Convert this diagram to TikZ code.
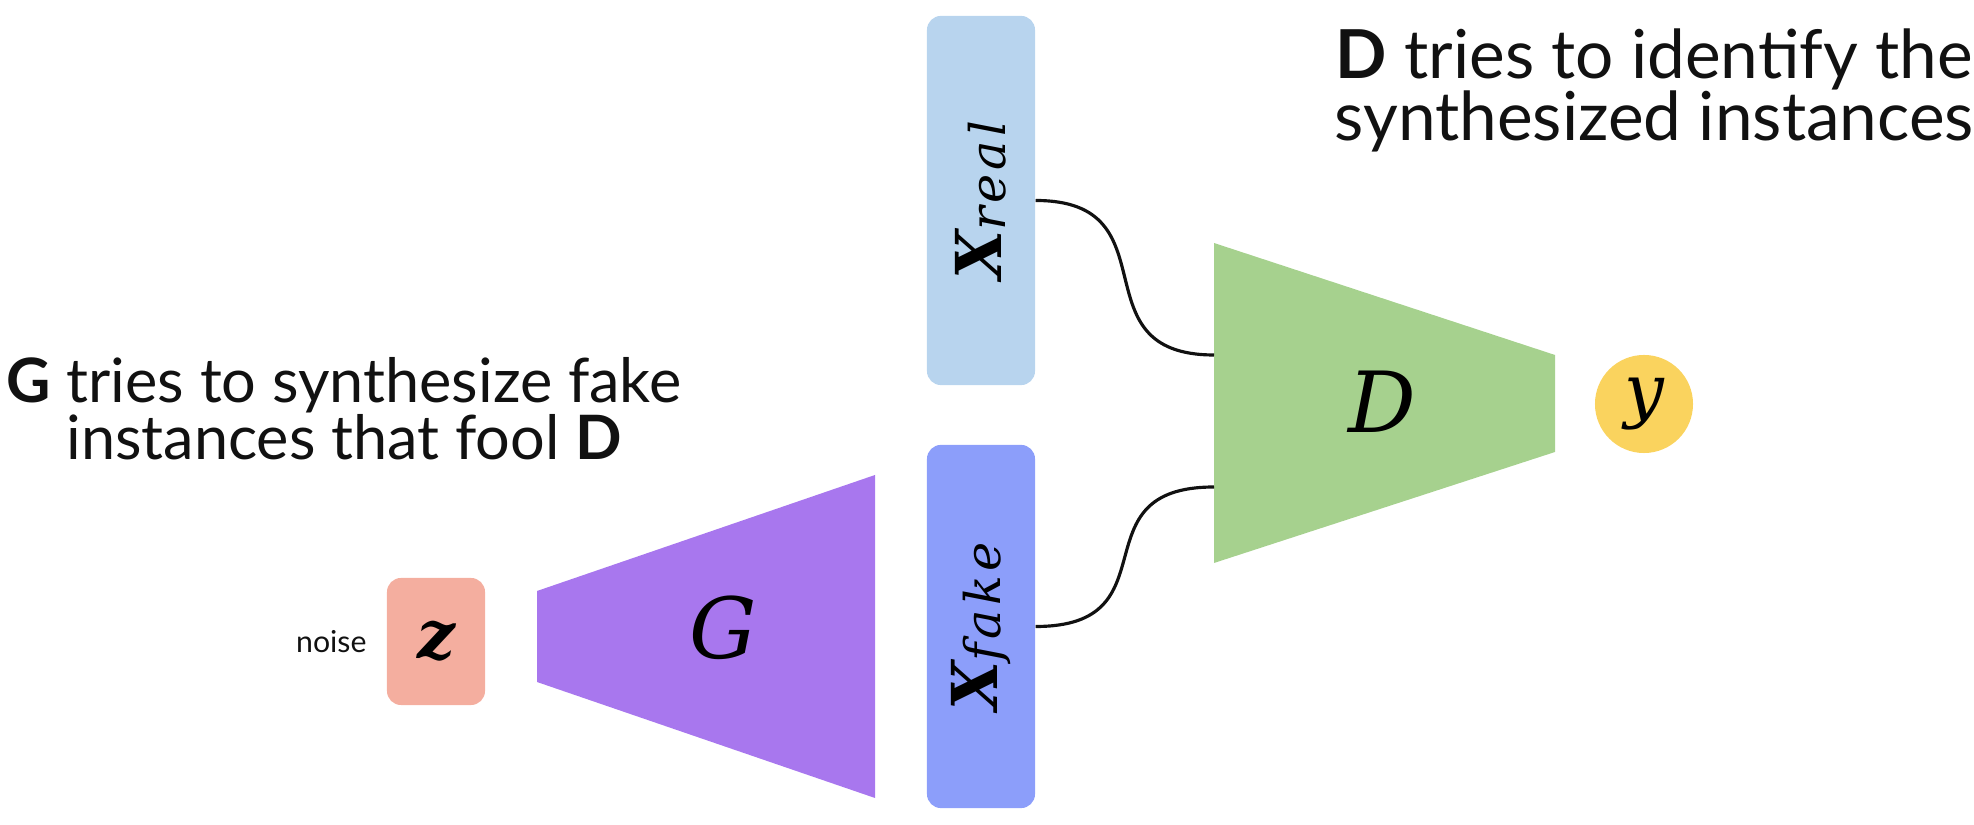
\documentclass[tikz,border=0pt]{standalone}
\usepackage{amsmath,amssymb}
\usepackage{fontspec}
\setmainfont{Lato}
\newfontfamily\mathserif{DejaVu Serif}
\newfontfamily\subserif[LetterSpace=8]{DejaVu Serif}
\usetikzlibrary{positioning}
\definecolor{ink}{HTML}{111111}
\definecolor{salmon}{HTML}{F4AE9F}
\definecolor{lilac}{HTML}{A877EE}
\definecolor{sky}{HTML}{B8D4EE}
\definecolor{peri}{HTML}{8C9EFA}
\definecolor{sage}{HTML}{A6D18E}
\definecolor{gold}{HTML}{FAD35E}
\colorlet{noisec}{salmon}
\colorlet{genc}{lilac}
\colorlet{realc}{sky}
\colorlet{fakec}{peri}
\colorlet{discc}{sage}
\colorlet{outc}{gold}
\newcommand{\sym}[2]{{\fontsize{#1}{#1}\selectfont\mathserif\itshape #2}}
\newcommand{\datavar}[1]{{\fontsize{18}{20}\selectfont\mathserif\bfseries\itshape X}%
  \raisebox{-0.1em}{\fontsize{14}{16}\selectfont\subserif\itshape #1}}
\tikzset{
  blk/.style={rounded corners=4pt,inner sep=0pt},
  note/.style={ink,align=center,inner sep=0pt},
  wire/.style={ink,line width=0.9pt}
}

\begin{document}
\begin{tikzpicture}[x=0.01cm,y=-0.01cm]
    \useasboundingbox (0,0) rectangle (1974,825);
    \node[note,font={\fontsize{17.4}{16.2}\selectfont\lineskiplimit=-20pt}] (gtxt) at (344,409)
      {\textbf{G} tries to synthesize fake\\ instances that fool \textbf{D}};
    \node[note,anchor=west,font={\fontsize{19.2}{17.6}\selectfont\lineskiplimit=-20pt}] (dtxt) at (1334,90)
      {\textbf{D} tries to identify the\\ synthesized instances};
    \node[blk,fill=noisec,minimum width=0.98cm,minimum height=1.27cm] (z) at (436,641.5)
      {{\fontsize{19}{20}\selectfont\mathserif\bfseries\itshape z}};
    \node[ink,inner sep=0pt,font=\fontsize{8.6}{10}\selectfont,left=0.19cm of z] (noise) {noise};
    \fill[genc] (537,591) -- (875,475) -- (875,798) -- (537,682) -- cycle;
    \node (g) at (723,628) {\sym{24}{G}};
    \node[blk,fill=realc,minimum width=1.08cm,minimum height=3.69cm] (xreal) at (981,200.5) {};
    \node[rotate=90] (xreallbl) at (xreal) {\datavar{real}};
    \node[blk,fill=fakec,minimum width=1.08cm,minimum height=3.63cm] (xfake) at (981,626.5) {};
    \node[rotate=90] (xfakelbl) at (xfake) {\datavar{fake}};
    \fill[discc] (1214,243) -- (1555,355) -- (1555,452) -- (1214,563) -- cycle;
    \node (d) at (1382,402) {\sym{24}{D}};
    \coordinate (din1) at (1214,355);
    \coordinate (din2) at (1214,487);
    \node[circle,fill=outc,inner sep=0pt,minimum size=0.98cm] (y) at (1644,404) {\sym{20}{y}};
    \draw[wire] (xreal.east) .. controls +(140,0) and +(-140,0) .. (din1);
    \draw[wire] (xfake.east) .. controls +(140,0) and +(-140,0) .. (din2);
  \end{tikzpicture}
\end{document}
